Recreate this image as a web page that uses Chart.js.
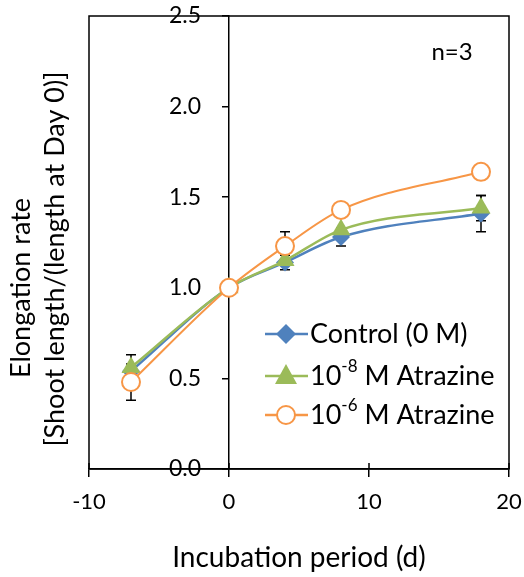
<!DOCTYPE html>
<html>
<head>
<meta charset="utf-8">
<script src="https://cdn.jsdelivr.net/npm/chart.js@4.4.1/dist/chart.umd.min.js"></script>
<style>
  html, body { margin: 0; padding: 0; background: #fff; }
  #wrap { width: 524px; height: 577px; }
</style>
</head>
<body>
<div id="wrap"><canvas id="chart" width="524" height="577"></canvas></div>
<script>
// days of incubation
const days = [-7, 0, 4, 8, 18];

const control = [0.54, 1.0, 1.14, 1.28, 1.41];
const atz8 = [0.56, 1.0, 1.15, 1.32, 1.44];
const atz6 = [0.48, 1.0, 1.23, 1.43, 1.64];

// error bars (+/-), null = none visible
const controlErr = [null, null, 0.04, 0.05, 0.10];
const atz8Err = [0.07, null, null, null, 0.07];
const atz6Err = [0.10, null, 0.08, null, null];

const xTicks = [-10, 0, 10, 20];
const yTicks = [0, 0.5, 1.0, 1.5, 2.0, 2.5];

const FONT = "Lato, 'Open Sans', sans-serif";
const BLUE = '#4F81BD', GREEN = '#9BBB59', ORANGE = '#F79646';

const toPts = (ys) => days.map((d, i) => ({ x: d, y: ys[i] }));

// put the y axis on x = 0, labels to its left
const yAtZero = {
  id: 'yAtZero',
  afterLayout(chart) {
    const y = chart.scales.y;
    const x0 = chart.scales.x.getPixelForValue(0);
    y.left = x0 - 60;
    y.right = x0;
    y.width = 60;
  }
};

const errorBars = {
  id: 'errorBars',
  beforeDatasetsDraw(chart) {
    const { ctx, scales: { x, y } } = chart;
    const errs = [controlErr, atz8Err, atz6Err];
    const vals = [control, atz8, atz6];
    ctx.save();
    ctx.strokeStyle = '#000';
    ctx.lineWidth = 1.5;
    errs.forEach((e, s) => {
      e.forEach((v, i) => {
        if (v == null) return;
        const px = x.getPixelForValue(days[i]);
        const top = y.getPixelForValue(vals[s][i] + v);
        const bot = y.getPixelForValue(vals[s][i] - v);
        ctx.beginPath();
        ctx.moveTo(px, top); ctx.lineTo(px, bot);
        ctx.moveTo(px - 5, top); ctx.lineTo(px + 5, top);
        ctx.moveTo(px - 5, bot); ctx.lineTo(px + 5, bot);
        ctx.stroke();
      });
    });
    ctx.restore();
  }
};

const decorations = {
  id: 'decorations',
  afterDraw(chart) {
    const { ctx, chartArea: a, scales: { x } } = chart;
    ctx.save();
    // plot frame
    ctx.strokeStyle = '#000';
    ctx.lineWidth = 1.5;
    ctx.strokeRect(a.left, a.top, a.right - a.left, a.bottom - a.top);
    // x ticks cross the axis
    ctx.beginPath();
    xTicks.forEach(v => {
      const px = x.getPixelForValue(v);
      ctx.moveTo(px, a.bottom - 6); ctx.lineTo(px, a.bottom);
    });
    ctx.stroke();

    ctx.fillStyle = '#000';
    ctx.textAlign = 'center';
    ctx.textBaseline = 'middle';
    ctx.font = '28px ' + FONT;
    ctx.fillText('Incubation period (d)', 299, 558);
    ctx.font = '24px ' + FONT;
    ctx.fillText('n=3', 452, 52);

    ctx.font = '27px ' + FONT;
    ctx.save();
    ctx.translate(21, 288);
    ctx.rotate(-Math.PI / 2);
    ctx.fillText('Elongation rate', 0, 0);
    ctx.restore();
    ctx.save();
    ctx.translate(55, 259);
    ctx.rotate(-Math.PI / 2);
    ctx.fillText('[Shoot length/(length at Day 0)]', 0, 0);
    ctx.restore();

    // legend
    const rows = [
      { color: BLUE, style: 'diamond', base: 'Control (0 M)' },
      { color: GREEN, style: 'triangle', base: '10', sup: '-8', rest: ' M Atrazine' },
      { color: ORANGE, style: 'circle', base: '10', sup: '-6', rest: ' M Atrazine' }
    ];
    const ys = [334, 376, 415];
    rows.forEach((r, i) => {
      const cy = ys[i];
      ctx.strokeStyle = r.color;
      ctx.lineWidth = 2.5;
      ctx.beginPath();
      ctx.moveTo(265, cy); ctx.lineTo(308, cy);
      ctx.stroke();
      const cx = 286;
      ctx.fillStyle = r.color;
      ctx.beginPath();
      if (r.style === 'diamond') {
        ctx.moveTo(cx, cy - 10); ctx.lineTo(cx + 10, cy); ctx.lineTo(cx, cy + 10); ctx.lineTo(cx - 10, cy);
        ctx.closePath(); ctx.fill();
      } else if (r.style === 'triangle') {
        ctx.moveTo(cx, cy - 12); ctx.lineTo(cx + 11, cy + 8); ctx.lineTo(cx - 11, cy + 8);
        ctx.closePath(); ctx.fill();
      } else {
        ctx.arc(cx, cy, 9, 0, Math.PI * 2);
        ctx.fillStyle = '#fff'; ctx.fill();
        ctx.lineWidth = 2; ctx.stroke();
      }
      ctx.fillStyle = '#000';
      ctx.textAlign = 'left';
      ctx.font = '27px ' + FONT;
      let tx = 310;
      ctx.fillText(r.base, tx, cy);
      if (r.sup) {
        tx += ctx.measureText(r.base).width;
        ctx.font = '17px ' + FONT;
        ctx.fillText(r.sup, tx, cy - 9);
        tx += ctx.measureText(r.sup).width;
        ctx.font = '27px ' + FONT;
        ctx.fillText(r.rest, tx, cy);
      }
    });
    ctx.restore();
  }
};

new Chart(document.getElementById('chart'), {
  type: 'line',
  data: {
    datasets: [
      {
        label: 'Control (0 M)', data: toPts(control), order: 3,
        borderColor: BLUE, backgroundColor: BLUE, borderWidth: 2.5,
        pointStyle: 'rectRot', pointRadius: 9, pointBorderWidth: 0,
        cubicInterpolationMode: 'monotone'
      },
      {
        label: '10-8 M Atrazine', data: toPts(atz8), order: 2,
        borderColor: GREEN, backgroundColor: GREEN, borderWidth: 2.5,
        pointStyle: 'triangle', pointRadius: 11, pointBorderWidth: 0,
        cubicInterpolationMode: 'monotone'
      },
      {
        label: '10-6 M Atrazine', data: toPts(atz6), order: 1,
        borderColor: ORANGE, backgroundColor: '#fff', borderWidth: 2,
        pointStyle: 'circle', pointRadius: 9, pointBorderWidth: 2,
        cubicInterpolationMode: 'monotone'
      }
    ]
  },
  options: {
    responsive: false,
    animation: false,
    layout: { padding: { left: 89, right: 15, top: 16, bottom: 0 } },
    plugins: { legend: { display: false }, tooltip: { enabled: false } },
    scales: {
      x: {
        type: 'linear', position: 'bottom', min: -10, max: 20,
        afterBuildTicks: (s) => { s.ticks = xTicks.map(v => ({ value: v })); },
        afterFit: (s) => { s.height = 108; s.paddingLeft = 0; s.paddingRight = 0; },
        grid: { drawOnChartArea: false, color: '#000', tickLength: 8, lineWidth: 1.5 },
        border: { display: true, color: '#000', width: 1.5 },
        ticks: { color: '#000', font: { family: FONT, size: 22 }, padding: 12 }
      },
      y: {
        type: 'linear', position: 'left', min: 0, max: 2.5,
        afterBuildTicks: (s) => { s.ticks = yTicks.map(v => ({ value: v })); },
        afterFit: (s) => { s.width = 0; s.paddingTop = 0; s.paddingBottom = 0; },
        grid: { drawOnChartArea: false, color: '#000', tickLength: 7, lineWidth: 1.5 },
        border: { display: true, color: '#000', width: 1.5 },
        ticks: {
          color: '#000', font: { family: FONT, size: 23 }, padding: 21,
          callback: (v) => v.toFixed(1)
        }
      }
    }
  },
  plugins: [yAtZero, errorBars, decorations]
});
</script>
</body>
</html>
